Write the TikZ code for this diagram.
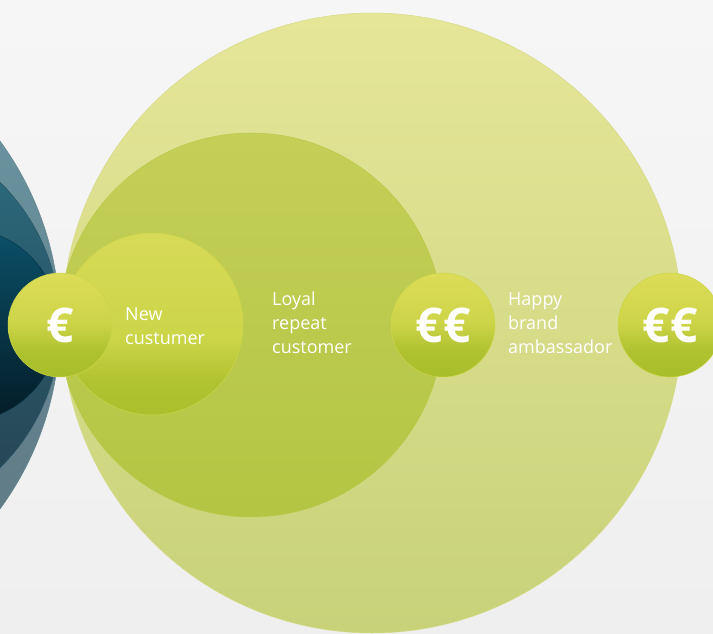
\documentclass[tikz,border=0pt]{standalone}
\usepackage{fontspec}
\setmainfont{Open Sans}

\definecolor{bgtop}{HTML}{F6F6F6}
\definecolor{bgbot}{HTML}{EFEFEF}
\definecolor{blueOA}{HTML}{6B9AA6}
\definecolor{blueOB}{HTML}{5E747E}
\definecolor{blueMA}{HTML}{2C6D81}
\definecolor{blueMB}{HTML}{26404D}
\definecolor{blueIA}{HTML}{0B5169}
\definecolor{blueIB}{HTML}{041B26}
\definecolor{grnOA}{HTML}{E6E699}
\definecolor{grnOB}{HTML}{C7D279}
\definecolor{grnMA}{HTML}{C4CF58}
\definecolor{grnMB}{HTML}{B3C543}
\definecolor{bdgA}{HTML}{DCDC58}
\definecolor{bdgB}{HTML}{CED549}
\definecolor{bdgC}{HTML}{AEC22F}
\definecolor{bdgD}{HTML}{A8BE2A}
\definecolor{smlA}{HTML}{D7DA58}
\definecolor{smlB}{HTML}{CCD548}
\definecolor{smlC}{HTML}{AFC230}
\definecolor{smlD}{HTML}{ABC02C}

\pgfdeclareverticalshading{badgeshade}{100bp}{color(0bp)=(bdgD); color(25bp)=(bdgD);
  color(37bp)=(bdgC); color(52bp)=(bdgB); color(75bp)=(bdgA); color(100bp)=(bdgA)}
\pgfdeclareverticalshading{smallshade}{100bp}{color(0bp)=(smlD); color(25bp)=(smlD);
  color(34bp)=(smlC); color(46bp)=(smlB); color(75bp)=(smlA); color(100bp)=(smlA)}

\begin{document}
\begin{tikzpicture}[x=1pt, y=-1pt,
    rim/.style={draw=#1, line width=0.5pt},
    badge/.style={circle, minimum size=104pt, inner sep=0pt, shading=badgeshade,
      rim=bdgB, text=white, font=\fontsize{48}{48}\selectfont\bfseries},
    stage/.style={anchor=north west, inner sep=0pt, align=left, text=white,
      font=\fontsize{18}{24}\selectfont}]
  \useasboundingbox (0,0) rectangle (713,634);
  \clip (0,0) rectangle (713,634);
  \shade[top color=bgtop, bottom color=bgbot] (0,0) rectangle (713,634);

  % left side, blue rings
  \shade[top color=blueOA, bottom color=blueOB, rim=blueOA!50!blueOB] (-252,325) circle (312);
  \shade[top color=blueMA, bottom color=blueMB, rim=blueMA!50!blueMB] (-140,325) circle (200);
  \shade[top color=blueIA, bottom color=blueIB, rim=blueIA!50!blueIB] (-38,325) circle (97);

  % right side, green rings
  \shade[top color=grnOA, bottom color=grnOB, rim=grnOA!50!grnOB] (372,323) circle (310);
  \shade[top color=grnMA, bottom color=grnMB, rim=grnMA!50!grnMB] (251,325) circle (192);
  \shade[shading=smallshade, rim=smlB] (152,324) circle (91);

  \node[badge] (one) at (60,325) {€};
  \node[badge] (two) at (443,325) {€€};
  \node[badge] (three) at (670,325) {€€};

  \node[stage] (new) at (125,307) {New\\custumer};
  \node[stage] (loyal) at (272,292) {Loyal\\repeat\\customer};
  \node[stage] (happy) at (508,292) {Happy\\brand\\ambassador};
\end{tikzpicture}
\end{document}
